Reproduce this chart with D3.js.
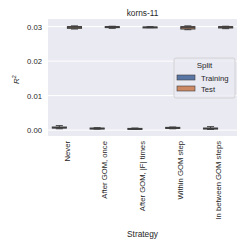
<!DOCTYPE html>
<html>
<head>
<meta charset="utf-8">
<script src="https://cdn.jsdelivr.net/npm/d3@7"></script>
<style>
  body { margin: 0; background: #fff; }
  text { font-family: "Liberation Sans", Arial, sans-serif; fill: #262626; }
</style>
</head>
<body>
<svg id="chart"></svg>
<script>
const categories = ["Never", "After GOM, once", "After GOM, |F| times", "Within GOM step", "In between GOM steps"];
const splits = ["Training", "Test"];
const yTicks = [0.00, 0.01, 0.02, 0.03];

// [whisker low, q1, median, q3, whisker high]
const trainingStats = [
  [0.0004, 0.0006, 0.0007, 0.0009, 0.0013],
  [0.0003, 0.0004, 0.0005, 0.0006, 0.0007],
  [0.0003, 0.0004, 0.0004, 0.0005, 0.0006],
  [0.0004, 0.0005, 0.0006, 0.0008, 0.0009],
  [0.0002, 0.0004, 0.0005, 0.0006, 0.0010]
];
const testStats = [
  [0.0293, 0.0295, 0.0298, 0.0300, 0.0302],
  [0.0295, 0.0297, 0.0299, 0.0300, 0.0301],
  [0.0297, 0.0298, 0.0298, 0.0299, 0.0300],
  [0.0291, 0.0293, 0.0297, 0.0300, 0.0302],
  [0.0294, 0.0296, 0.0298, 0.0300, 0.0301]
];

const W = 249, H = 249;
const margin = {top: 19, right: 12, bottom: 113, left: 48};
const colors = {Training: "#5975a4", Test: "#cc8963"};
const lineColor = "#3d3d3d";
const font = "Liberation Sans";

const svg = d3.select("#chart").attr("width", W).attr("height", H);
const iw = W - margin.left - margin.right, ih = H - margin.top - margin.bottom;
const g = svg.append("g").attr("transform", `translate(${margin.left},${margin.top})`);

g.append("rect").attr("width", iw).attr("height", ih).attr("fill", "#eaeaf2");

const x = d3.scaleBand().domain(categories).range([0, iw]);
const xs = d3.scaleBand().domain(splits).range([x.bandwidth() * 0.1, x.bandwidth() * 0.9]);
const y = d3.scaleLinear().domain([-0.0017, 0.0322]).range([ih, 0]);

// grid
g.selectAll(".grid").data(yTicks).join("line")
  .attr("x1", 0).attr("x2", iw)
  .attr("y1", d => y(d)).attr("y2", d => y(d))
  .attr("stroke", "#fff").attr("stroke-width", 1);

// y axis
const yAxis = g.append("g").call(d3.axisLeft(y).tickValues(yTicks).tickFormat(d3.format(".2f")).tickSize(0).tickPadding(6));
yAxis.select(".domain").remove();
yAxis.selectAll("text").attr("font-size", 7.7).attr("font-family", font).attr("fill", "#262626");

// x axis
const xAxis = g.append("g").attr("transform", `translate(0,${ih})`).call(d3.axisBottom(x).tickSize(0).tickPadding(0));
xAxis.select(".domain").remove();
xAxis.selectAll("text")
  .attr("font-size", 7.7).attr("font-family", font).attr("fill", "#262626")
  .attr("transform", "rotate(-90)")
  .attr("text-anchor", "end")
  .attr("x", -5).attr("y", 0).attr("dy", "0.35em");

// boxes
const allStats = {Training: trainingStats, Test: testStats};
splits.forEach(s => {
  categories.forEach((c, i) => {
    const [lo, q1, med, q3, hi] = allStats[s][i];
    const bx = x(c) + xs(s) + 0.5, bw = xs.bandwidth() - 1;
    const cx = bx + bw / 2;
    const bg = g.append("g");
    bg.append("line").attr("x1", cx).attr("x2", cx).attr("y1", y(hi)).attr("y2", y(q3)).attr("stroke", lineColor).attr("stroke-width", 1);
    bg.append("line").attr("x1", cx).attr("x2", cx).attr("y1", y(q1)).attr("y2", y(lo)).attr("stroke", lineColor).attr("stroke-width", 1);
    [lo, hi].forEach(v => bg.append("line")
      .attr("x1", cx - bw / 4).attr("x2", cx + bw / 4).attr("y1", y(v)).attr("y2", y(v))
      .attr("stroke", lineColor).attr("stroke-width", 1));
    bg.append("rect").attr("x", bx).attr("width", bw)
      .attr("y", y(q3)).attr("height", Math.max(y(q1) - y(q3), 1))
      .attr("fill", colors[s]).attr("stroke", lineColor).attr("stroke-width", 1);
    bg.append("line").attr("x1", bx).attr("x2", bx + bw).attr("y1", y(med)).attr("y2", y(med))
      .attr("stroke", lineColor).attr("stroke-width", 1);
  });
});

// title & labels
svg.append("text").attr("x", margin.left + iw / 2).attr("y", 16).attr("text-anchor", "middle")
  .attr("font-size", 8.3).text("korns-11");
svg.append("text").attr("x", margin.left + iw / 2).attr("y", 237).attr("text-anchor", "middle")
  .attr("font-size", 8.3).text("Strategy");
svg.append("text").attr("transform", `translate(19,${margin.top + ih / 2 + 2}) rotate(-90)`)
  .attr("text-anchor", "middle").attr("font-size", 8)
  .html('<tspan font-style="italic">R</tspan><tspan dy="-3" font-size="5.5">2</tspan>');

// legend
const lg = svg.append("g").attr("transform", "translate(174,58)");
lg.append("rect").attr("width", 61).attr("height", 40).attr("rx", 2)
  .attr("fill", "#eaeaf2").attr("fill-opacity", 0.8).attr("stroke", "#cccccc").attr("stroke-width", 0.8);
lg.append("text").attr("x", 30.5).attr("y", 10).attr("text-anchor", "middle").attr("font-size", 8).text("Split");
splits.forEach((s, i) => {
  lg.append("rect").attr("x", 3).attr("y", 17 + i * 11).attr("width", 18).attr("height", 5)
    .attr("fill", colors[s]).attr("stroke", lineColor).attr("stroke-width", 0.6);
  lg.append("text").attr("x", 27).attr("y", 22.5 + i * 11).attr("font-size", 7.7).text(s);
});
</script>
</body>
</html>
